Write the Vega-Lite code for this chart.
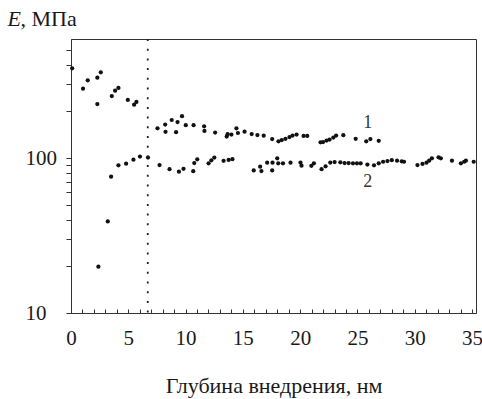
{
  "$schema": "https://vega.github.io/schema/vega-lite/v6.json",
  "width": 405,
  "height": 274,
  "autosize": {"type": "none"},
  "padding": {"left": 71, "top": 39, "right": 6, "bottom": 86},
  "background": "white",
  "config": {
    "view": {"stroke": "#333", "strokeWidth": 1},
    "font": "Liberation Serif",
    "axis": {"labelFont": "Liberation Serif", "titleFont": "Liberation Serif", "ticks": true}
  },
  "resolve": {"axis": {"y": "independent", "x": "independent"}},
  "layer": [
    {
      "data": {"values": [
        {"s":1,"x":0.1,"y":379},{"s":1,"x":1.05,"y":280},{"s":1,"x":1.46,"y":317},{"s":1,"x":2.3,"y":330},{"s":1,"x":2.6,"y":357},{"s":1,"x":2.3,"y":223},{"s":1,"x":3.56,"y":251},{"s":1,"x":3.85,"y":272},{"s":1,"x":4.14,"y":283},{"s":1,"x":4.96,"y":237},{"s":1,"x":5.51,"y":221},{"s":1,"x":5.71,"y":230},
        {"s":1,"x":7.55,"y":155.5},{"s":1,"x":8.22,"y":164.5},{"s":1,"x":8.25,"y":147.6},{"s":1,"x":8.79,"y":175.9},{"s":1,"x":9.17,"y":146.7},{"s":1,"x":9.3,"y":170.7},{"s":1,"x":9.69,"y":186.1},{"s":1,"x":10.02,"y":162.8},{"s":1,"x":10.7,"y":162.8},{"s":1,"x":11.62,"y":160.2},{"s":1,"x":11.65,"y":149.4},{"s":1,"x":12.58,"y":146},{"s":1,"x":13.59,"y":137.6},{"s":1,"x":13.67,"y":142.4},{"s":1,"x":14.0,"y":141.8},{"s":1,"x":14.44,"y":155.5},{"s":1,"x":14.57,"y":145},{"s":1,"x":15.15,"y":147.8},{"s":1,"x":15.77,"y":142.8},{"s":1,"x":16.27,"y":140.7},{"s":1,"x":16.82,"y":139.3},{"s":1,"x":17.56,"y":132.6},{"s":1,"x":18.11,"y":128.2},{"s":1,"x":18.4,"y":130.6},{"s":1,"x":18.72,"y":133},{"s":1,"x":19.07,"y":136.6},{"s":1,"x":19.34,"y":139.7},{"s":1,"x":19.69,"y":141.8},{"s":1,"x":20.3,"y":138.7},{"s":1,"x":20.62,"y":138.7},{"s":1,"x":21.78,"y":126.3},{"s":1,"x":22.0,"y":126.8},{"s":1,"x":22.31,"y":129.7},{"s":1,"x":22.57,"y":131.6},{"s":1,"x":22.9,"y":135.6},{"s":1,"x":23.14,"y":139.7},{"s":1,"x":23.77,"y":140.3},{"s":1,"x":24.85,"y":133},{"s":1,"x":25.77,"y":128.2},{"s":1,"x":26.13,"y":132.6},{"s":1,"x":26.86,"y":129.1},
        {"s":2,"x":2.39,"y":19.9},{"s":2,"x":3.21,"y":39},{"s":2,"x":3.5,"y":75.8},{"s":2,"x":4.14,"y":89.7},{"s":2,"x":4.81,"y":91.9},{"s":2,"x":5.45,"y":97.5},{"s":2,"x":6.02,"y":102.2},{"s":2,"x":6.72,"y":100.7},{"s":2,"x":7.73,"y":90.1},{"s":2,"x":8.6,"y":84.7},{"s":2,"x":9.42,"y":81.6},{"s":2,"x":9.82,"y":85.2},{"s":2,"x":10.67,"y":82.2},{"s":2,"x":10.76,"y":92.8},{"s":2,"x":11.02,"y":98.1},{"s":2,"x":12.01,"y":92.4},{"s":2,"x":12.25,"y":96.6},{"s":2,"x":12.51,"y":100.7},{"s":2,"x":13.32,"y":95.9},{"s":2,"x":13.76,"y":97.1},{"s":2,"x":14.09,"y":98.2},{"s":2,"x":15.95,"y":83.1},{"s":2,"x":16.51,"y":87.9},{"s":2,"x":16.62,"y":82.4},{"s":2,"x":17.12,"y":93.3},{"s":2,"x":17.56,"y":83.1},{"s":2,"x":17.59,"y":93.3},{"s":2,"x":18.0,"y":99.6},{"s":2,"x":18.09,"y":92.4},{"s":2,"x":18.5,"y":92.4},{"s":2,"x":19.16,"y":93.3},{"s":2,"x":20.03,"y":93.5},{"s":2,"x":20.12,"y":89.2},{"s":2,"x":20.98,"y":89},{"s":2,"x":21.2,"y":92.4},{"s":2,"x":21.87,"y":84.7},{"s":2,"x":22.22,"y":88.4},{"s":2,"x":22.63,"y":93.5},{"s":2,"x":23.01,"y":94.2},{"s":2,"x":23.51,"y":93.8},{"s":2,"x":23.88,"y":92.8},{"s":2,"x":24.23,"y":92.8},{"s":2,"x":24.61,"y":92.4},{"s":2,"x":24.96,"y":92.4},{"s":2,"x":25.28,"y":92.4},{"s":2,"x":25.87,"y":90.8},{"s":2,"x":26.45,"y":89.7},{"s":2,"x":26.86,"y":92.4},{"s":2,"x":27.24,"y":94.6},{"s":2,"x":27.62,"y":95.6},{"s":2,"x":28.0,"y":96.8},{"s":2,"x":28.46,"y":96.1},{"s":2,"x":28.87,"y":95.2},{"s":2,"x":29.07,"y":94.6},{"s":2,"x":30.24,"y":90.1},{"s":2,"x":30.68,"y":91.5},{"s":2,"x":31.03,"y":93.3},{"s":2,"x":31.26,"y":96.1},{"s":2,"x":31.5,"y":99.6},{"s":2,"x":32.08,"y":101},{"s":2,"x":32.28,"y":99.6},{"s":2,"x":33.25,"y":96.1},{"s":2,"x":34.03,"y":92.4},{"s":2,"x":34.32,"y":94.6},{"s":2,"x":34.47,"y":96.1},{"s":2,"x":35.15,"y":94.6}
      ]},
      "mark": {"type": "circle", "size": 18, "color": "#111", "opacity": 1},
      "encoding": {
        "x": {
          "field": "x", "type": "quantitative",
          "scale": {"domain": [0, 35.35], "nice": false, "zero": false},
          "axis": {
            "orient": "bottom",
            "values": [0,5,10,15,20,25,30,35],
            "ticks": false, "domainColor": "#333", "grid": false,
            "labelFont": "Liberation Serif", "labelFontSize": 21, "labelColor": "#1a1a1a", "labelPadding": 14, "labelFlush": false, "labelOverlap": false,
            "title": "Глубина внедрения, нм", "titleFont": "Liberation Serif", "titleFontSize": 22, "titleFontWeight": "normal", "titleColor": "#1a1a1a",
            "titleY": 79, "titleBaseline": "alphabetic"
          }
        },
        "y": {
          "field": "y", "type": "quantitative",
          "scale": {"type": "log", "domain": [10, 586], "nice": false},
          "axis": {
            "orient": "left",
            "values": [10, 100],
            "format": "d",
            "ticks": false, "domainColor": "#333", "grid": false,
            "labelFont": "Liberation Serif", "labelFontSize": 21, "labelColor": "#1a1a1a", "labelAlign": "left", "labelPadding": 46, "labelBaseline": "middle", "labelOverlap": false, "labelFlush": false,
            "title": "E", "titleFont": "Liberation Serif", "titleFontStyle": "italic", "titleFontWeight": "normal", "titleFontSize": 22, "titleColor": "#1a1a1a",
            "titleAngle": 0, "titleX": -64, "titleY": -14, "titleAlign": "left", "titleBaseline": "alphabetic"
          }
        }
      }
    },
    {
      "data": {"values": [{"x": 6.7}]},
      "mark": {"type": "rule", "color": "#222", "strokeWidth": 1.8, "strokeDash": [2, 7.7]},
      "encoding": {"x": {"field": "x", "type": "quantitative", "axis": null}}
    },
    {
      "data": {"values": [{"t": "1", "x": 25.9, "y": 168}, {"t": "2", "x": 25.9, "y": 70}]},
      "mark": {"type": "text", "fontSize": 18, "color": "#333", "font": "Liberation Serif", "baseline": "middle", "align": "center"},
      "encoding": {
        "x": {
          "field": "x", "type": "quantitative",
          "axis": {
            "orient": "bottom",
            "values": [0,1,2,3,4,5,6,7,8,9,10,11,12,13,14,15,16,17,18,19,20,21,22,23,24,25,26,27,28,29,30,31,32,33,34,35],
            "ticks": true, "tickSize": -4, "tickWidth": 1, "tickColor": "#333", "domain": false, "labels": false, "grid": false, "title": null
          }
        },
        "y": {
          "field": "y", "type": "quantitative",
          "scale": {"type": "log", "domain": [10, 586], "nice": false},
          "axis": {
            "orient": "left",
            "values": [10,20,30,40,50,60,70,80,90,100,200,300,400,500],
            "ticks": true, "tickSize": 5, "tickWidth": 1, "tickColor": "#333", "domain": false, "labels": false, "grid": false,
            "title": ", МПа", "titleFont": "Liberation Serif", "titleFontWeight": "normal", "titleFontSize": 22, "titleColor": "#1a1a1a",
            "titleAngle": 0, "titleX": -51, "titleY": -14, "titleAlign": "left", "titleBaseline": "alphabetic"
          }
        },
        "text": {"field": "t"}
      }
    }
  ]
}
